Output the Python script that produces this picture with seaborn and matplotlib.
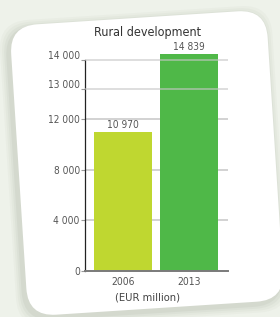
import matplotlib
matplotlib.use('Agg')

import numpy as np
import pandas as pd
import seaborn as sns
import matplotlib.pyplot as plt
from matplotlib.patches import FancyBboxPatch
from matplotlib.transforms import Affine2D, ScaledTranslation

# data
years = ['2006', '2013']
amounts = [10970, 14839]
bar_colors = ['#bfd730', '#4fb848']
y_ticks = [0, 4000, 8000, 12000, 13000, 14000]
title = 'Rural development'
unit_label = '(EUR million)'

df = pd.DataFrame({'year': years, 'amount': amounts})

sns.set_theme(style='white')
plt.rcParams['font.family'] = ['DejaVu Sans']
plt.rcParams['font.stretch'] = 'condensed'

fig = plt.figure(figsize=(2.8, 3.17), dpi=100)
fig.patch.set_facecolor('#eef2ea')

# rotated card with soft shadow (inches)
cx, cy = 1.47, (317 - 163) / 100
cw, ch = 2.57, 2.91
rot = Affine2D().rotate_deg_around(cx, cy, 3.7) + fig.dpi_scale_trans
for k, a in enumerate([0.05, 0.06, 0.08, 0.10]):
    grow = 0.08 - k * 0.02
    sh = FancyBboxPatch((cx - cw / 2 - grow - 0.03, cy - ch / 2 - grow - 0.03),
                        cw + 2 * grow, ch + 2 * grow,
                        boxstyle='round,pad=0,rounding_size=0.3',
                        fc='#8e9a86', ec='none', alpha=a, transform=rot, zorder=-5)
    fig.patches.append(sh)
card = FancyBboxPatch((cx - cw / 2, cy - ch / 2), cw, ch,
                      boxstyle='round,pad=0,rounding_size=0.28',
                      fc='white', ec='none', transform=rot, zorder=-4)
fig.patches.append(card)

ax = fig.add_axes([84.7 / 280, 1 - 271 / 317, (228 - 84.7) / 280, (271 - 54) / 317])
ax.set_facecolor('none')
ax.set_zorder(2)

sns.barplot(data=df, x='year', y='amount', hue='year', palette=bar_colors,
            width=0.88, legend=False, ax=ax, saturation=1, zorder=2,
            edgecolor='none', linewidth=0)

# broken (piecewise linear) value axis
kv = [-12000, 0, 12000, 13000, 14000, 14839, 30000]
kp = [-152, 0, 152, 182, 211, 217, 217 + (30000 - 14839) * 6 / 839]
ax.set_yscale('function', functions=(lambda v: np.interp(v, kv, kp),
                                     lambda p: np.interp(p, kp, kv)))
ax.set_ylim(0, 14839)
ax.set_xlim(-0.58, 1.59)

ax.set_yticks(y_ticks)
ax.set_yticklabels([f'{t:,}'.replace(',', ' ') for t in y_ticks])
for t in y_ticks[1:]:
    over = t >= 13000
    ax.axhline(t, color='#c6c6c6', lw=1.1, zorder=3 if over else 1,
               alpha=0.75 if over else 1)

for i, v in enumerate(amounts):
    ax.annotate(f'{v:,}'.replace(',', ' '), (i, v), xytext=(0, 1.5),
                textcoords='offset points', ha='center', va='bottom',
                fontsize=7.3, color='#555555')

for s in ['top', 'right']:
    ax.spines[s].set_visible(False)
ax.spines['left'].set_bounds(0, 14000)
ax.spines['left'].set_color('#222222')
ax.spines['left'].set_linewidth(0.9)
ax.spines['bottom'].set_color('#7a7a7a')
ax.spines['bottom'].set_linewidth(1.4)

ax.tick_params(axis='y', length=3, width=0.8, color='#9a9a9a', pad=0.5,
               labelsize=7.3, labelcolor='#555555', left=True)
ax.tick_params(axis='x', length=0, pad=4, labelsize=7.5, labelcolor='#555555')

# labels of the stretched upper part sit a little above their lines
for tick, t in zip(ax.yaxis.get_major_ticks(), y_ticks):
    if t >= 13000:
        lab = tick.label1
        lab.set_transform(lab.get_transform() + ScaledTranslation(0, 5 / 100, fig.dpi_scale_trans))

ax.set_xlabel(unit_label, fontsize=8.0, color='#444444')
ax.xaxis.set_label_coords(0.435, -0.12)
ax.xaxis.label.set_va('center')
ax.set_ylabel('')
ax.set_title(title, fontsize=9.0, color='#333333', x=0.435, pad=13)

fig.savefig('out.png', dpi=100, facecolor=fig.get_facecolor())
